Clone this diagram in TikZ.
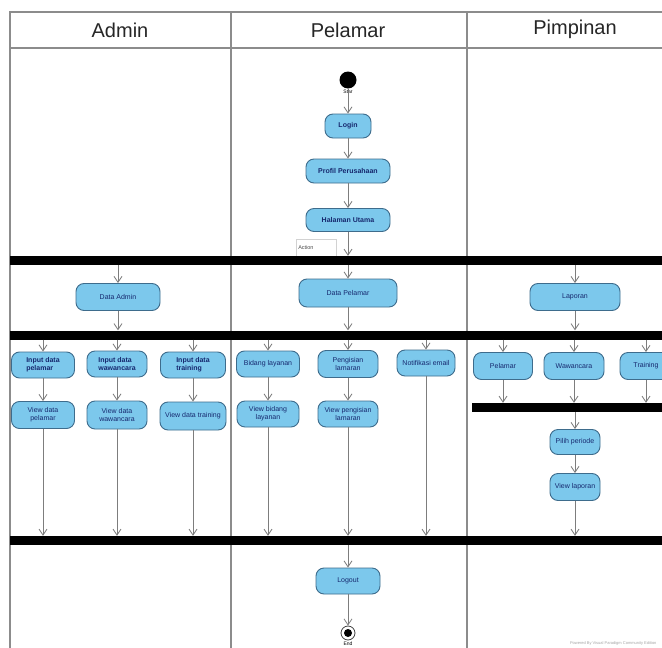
\documentclass[tikz,border=0pt]{standalone}
\usepackage{fontspec}
\setmainfont{Liberation Sans}
\usetikzlibrary{arrows.meta,positioning}
\definecolor{actfill}{RGB}{124,200,236}
\definecolor{actline}{RGB}{62,108,140}
\definecolor{acttext}{RGB}{22,40,110}
\definecolor{laneline}{RGB}{140,140,140}
\definecolor{flowline}{RGB}{125,125,125}
\tikzset{
  act/.style={rectangle, rounded corners=8pt, draw=actline, fill=actfill, line width=0.9pt,
    text=acttext, font=\fontsize{7}{8}\selectfont, align=center, inner sep=2pt, minimum height=26pt},
  actb/.style={act, font=\fontsize{7}{8}\selectfont\bfseries},
  flow/.style={draw=flowline, line width=0.8pt, -{Straight Barb[length=6pt,width=8pt]}},
  bar/.style={rectangle, fill=black, inner sep=0pt, minimum height=9pt},
  lane/.style={draw=laneline, line width=1.3pt},
  lanehead/.style={font=\fontsize{20}{24}\selectfont, text=black!85},
  tiny/.style={font=\fontsize{5}{6}\selectfont, inner sep=0.5pt},
}
\begin{document}
\begin{tikzpicture}[x=1pt, y=-1pt]
        \useasboundingbox (0,0) rectangle (662,648);
        \clip (0,0) rectangle (662,648);
        \fill[white] (0,0) rectangle (662,648);

        \draw[lane] (10,660) -- (10,12) -- (670,12);
        \draw[lane] (10,48) -- (670,48);
        \draw[lane] (231,12) -- (231,660);
        \draw[lane] (467,12) -- (467,660);

        \node[lanehead] (hadmin) at (120,30) {Admin};
        \node[lanehead] (hpelamar) at (348,30) {Pelamar};
        \node[lanehead] (hpimpinan) at (575,29) {Pimpinan};

        \node[circle, fill=black, minimum size=17pt, inner sep=0pt] (start) at (348,80) {};
        \node[tiny, below=0.5pt of start] (startlabel) {Star};
        \node[actb, minimum width=46pt, minimum height=24pt] (login) at (348,126) {Login};
        \node[actb, minimum width=84pt, minimum height=24pt] (profil) at (348,171) {Profil Perusahaan};
        \node[actb, minimum width=84pt, minimum height=23pt] (halaman) at (348,220) {Halaman Utama};
        \node[draw=gray!35, line width=0.5pt, font=\fontsize{5.5}{6}\selectfont, text=black!70,
          minimum width=40pt, minimum height=17pt, inner sep=2pt, align=left, text width=36pt,
          anchor=north west] (note) at (296,239) {Action};

        \node[bar, minimum width=652pt] (bar1) at (336,260.5) {};

        \node[act, minimum width=84pt, minimum height=27pt] (dataadmin) at (118,297) {Data Admin};
        \node[act, minimum width=98pt, minimum height=28pt] (datapelamar) at (348,293) {Data Pelamar};
        \node[act, minimum width=90pt, minimum height=27pt] (laporan) at (575,297) {Laporan};

        \node[bar, minimum width=652pt] (bar2) at (336,335) {};

        \node[actb, minimum width=63pt, align=left] (inpelamar) at (43,365) {Input data\\pelamar};
        \node[actb, minimum width=60pt, align=left] (inwawancara) at (117,364) {Input data\\wawancara};
        \node[actb, minimum width=65pt, align=left] (intraining) at (193,365) {Input data\\training};
        \node[act, minimum width=63pt, minimum height=27pt] (vpelamar) at (43,415) {View data\\pelamar};
        \node[act, minimum width=60pt, minimum height=28pt] (vwawancara) at (117,415) {View data\\wawancara};
        \node[act, minimum width=66pt, minimum height=28pt] (vtraining) at (193,416) {View data training};

        \node[act, minimum width=63pt] (bidang) at (268,364) {Bidang layanan};
        \node[act, minimum width=60pt, minimum height=27pt] (pengisian) at (348,364) {Pengisian\\lamaran};
        \node[act, minimum width=58pt] (notifikasi) at (426,363) {Notifikasi email};
        \node[act, minimum width=62pt] (vbidang) at (268,414) {View bidang\\layanan};
        \node[act, minimum width=60pt] (vpengisian) at (348,414) {View pengisian\\lamaran};

        \node[act, minimum width=59pt, minimum height=27pt] (ppelamar) at (503,366) {Pelamar};
        \node[act, minimum width=60pt, minimum height=27pt] (pwawancara) at (574,366) {Wawancara};
        \node[act, minimum width=52pt, minimum height=27pt] (ptraining) at (646,366) {Training};

        \node[bar, minimum width=190pt] (bar3) at (567,407.5) {};

        \node[act, minimum width=50pt, minimum height=25pt] (pilih) at (575,442) {Pilih periode};
        \node[act, minimum width=50pt, minimum height=27pt] (vlaporan) at (575,487) {View laporan};

        \node[bar, minimum width=652pt] (bar4) at (336,540.5) {};

        \node[act, minimum width=64pt, minimum height=26pt] (logout) at (348,581) {Logout};
        \node[circle, draw=black!75, line width=0.8pt, minimum size=14pt, inner sep=0pt] (end) at (348,633) {};
        \node[circle, fill=black, minimum size=8pt, inner sep=0pt] (endcore) at (end.center) {};
        \node[tiny, below=0.5pt of end] (endlabel) {End};

        \node[font=\fontsize{4}{5}\selectfont, text=black!35, anchor=east] (footer) at (660,643)
          {Powered By Visual Paradigm Community Edition};

        \draw[flow] (start) -- (login);
        \draw[flow] (login) -- (profil);
        \draw[flow] (profil) -- (halaman);
        \draw[flow] (halaman) -- (halaman |- bar1.north);
        \draw[flow] (bar1.south -| dataadmin) -- (dataadmin);
        \draw[flow] (bar1.south -| datapelamar) -- (datapelamar);
        \draw[flow] (bar1.south -| laporan) -- (laporan);
        \draw[flow] (dataadmin) -- (dataadmin |- bar2.north);
        \draw[flow] (datapelamar) -- (datapelamar |- bar2.north);
        \draw[flow] (laporan) -- (laporan |- bar2.north);

        \foreach \n in {inpelamar, inwawancara, intraining, bidang, pengisian, notifikasi, ppelamar, pwawancara, ptraining}
          \draw[flow] (bar2.south -| \n) -- (\n);
        \draw[flow] (inpelamar) -- (vpelamar);
        \draw[flow] (inwawancara) -- (vwawancara);
        \draw[flow] (intraining) -- (vtraining);
        \draw[flow] (bidang) -- (vbidang);
        \draw[flow] (pengisian) -- (vpengisian);
        \foreach \n in {vpelamar, vwawancara, vtraining, vbidang, vpengisian, notifikasi}
          \draw[flow] (\n) -- (\n |- bar4.north);

        \foreach \n in {ppelamar, pwawancara, ptraining}
          \draw[flow] (\n) -- (\n |- bar3.north);
        \draw[flow] (bar3.south -| pilih) -- (pilih);
        \draw[flow] (pilih) -- (vlaporan);
        \draw[flow] (vlaporan) -- (vlaporan |- bar4.north);
        \draw[flow] (bar4.south -| logout) -- (logout);
        \draw[flow] (logout) -- (end);
    \end{tikzpicture}
\end{document}
